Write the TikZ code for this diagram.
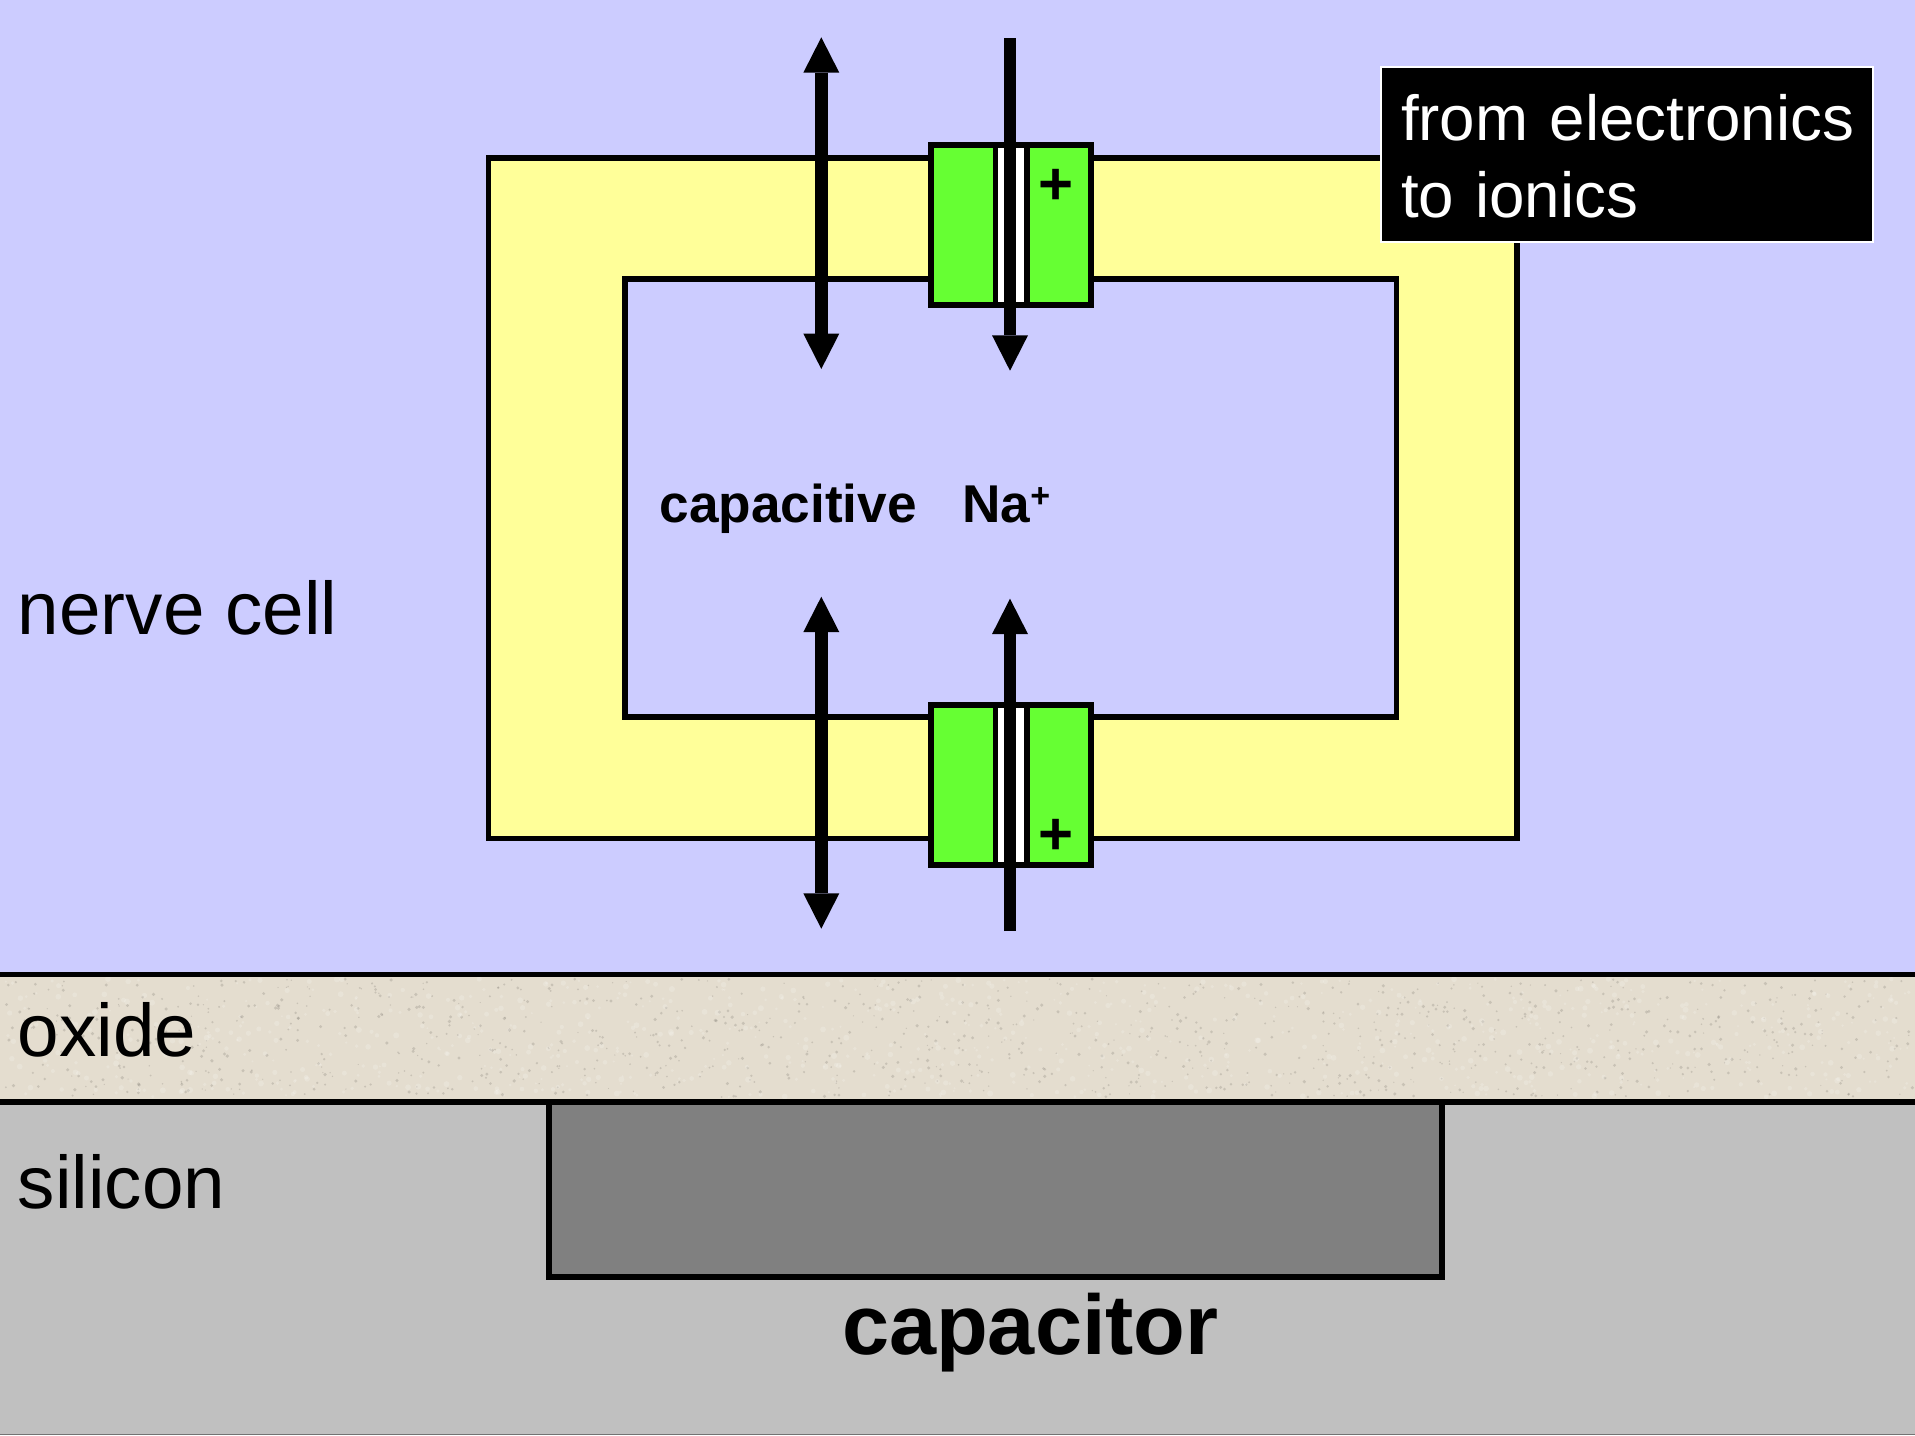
\documentclass[tikz,border=0pt]{standalone}
\usepackage{fontspec}
\setmainfont{Liberation Sans}
\usetikzlibrary{arrows.meta}
\definecolor{cellblue}{HTML}{CCCCFF}
\definecolor{frameyellow}{HTML}{FFFF99}
\definecolor{chgreen}{HTML}{66FF33}
\definecolor{oxidec}{HTML}{E4DDCF}
\definecolor{silic}{HTML}{C0C0C0}
\definecolor{capc}{HTML}{808080}
\tikzset{
  x=0.5pt,y=-0.5pt,
  outl/.style={draw=black,line width=2.95pt,line join=miter},
  lbl/.style={inner sep=0pt,outer sep=0pt,anchor=base west,font=\fontsize{37.3pt}{40pt}\selectfont},
  blbl/.style={inner sep=0pt,outer sep=0pt,anchor=base west,font=\bfseries\fontsize{26.6pt}{30pt}\selectfont},
  plusl/.style={inner sep=0pt,outer sep=0pt,anchor=base,font=\bfseries\fontsize{30pt}{30pt}\selectfont},
  ionarrow/.style={line width=6.3pt,line cap=butt},
  bothtips/.style={ionarrow,{Triangle[line width=0pt,width=18pt,length=17.7pt]}-{Triangle[line width=0pt,width=18pt,length=17.7pt]}},
  onetip/.style={ionarrow,-{Triangle[line width=0pt,width=18pt,length=17.7pt]}},
}
\begin{document}
\begin{tikzpicture}
\useasboundingbox (0,0) rectangle (1915,1435);
% layers
\fill[cellblue] (0,0) rectangle (1915,975);
\fill[oxidec] (0,975) rectangle (1915,1102);
\pgfmathsetseed{4711}
\foreach \i in {1,...,1100}{
  \pgfmathsetmacro{\px}{rnd*1915}
  \pgfmathsetmacro{\py}{979+rnd*118}
  \pgfmathsetmacro{\pr}{0.6+rnd*1.2}
  \fill[black!55!oxidec,opacity=0.22] (\px,\py) circle[radius=\pr];
}
\foreach \i in {1,...,900}{
  \pgfmathsetmacro{\px}{rnd*1915}
  \pgfmathsetmacro{\py}{979+rnd*118}
  \pgfmathsetmacro{\pr}{1+rnd*2}
  \fill[white,opacity=0.18] (\px,\py) circle[radius=\pr];
}
\fill[silic] (0,1102) rectangle (1915,1435);
\draw[black!55,line width=0.5pt] (0,1434.5) -- (1915,1434.5);
\draw[line width=2.95pt] (0,974.5) -- (1915,974.5);
\draw[line width=2.95pt] (0,1102.3) -- (1915,1102.3);
\draw[outl,fill=capc] (549,1102.3) rectangle (1442.4,1277);
% cell frame
\draw[outl,fill=frameyellow,even odd rule] (488.5,158) rectangle (1517,838.5) (624.7,279) rectangle (1396.5,717);
% channels
\draw[outl,fill=chgreen] (931.3,145.3) rectangle (995.5,305);
\draw[outl,fill=chgreen] (1027.3,145.3) rectangle (1091.3,305);
\draw[outl,fill=white] (995.5,145.3) rectangle (1027.3,305);
\draw[outl,fill=chgreen] (931.3,705) rectangle (995.5,865);
\draw[outl,fill=chgreen] (1027.3,705) rectangle (1091.3,865);
\draw[outl,fill=white] (995.5,705) rectangle (1027.3,865);
% arrow ends
\coordinate (capTopA) at (821.3,37.3);
\coordinate (capTopB) at (821.3,369);
\coordinate (naTopA) at (1010,38.3);
\coordinate (naTopB) at (1010,370.7);
\coordinate (capBotA) at (821.3,596.7);
\coordinate (capBotB) at (821.3,928.7);
\coordinate (naBotA) at (1010,931);
\coordinate (naBotB) at (1010,598.7);
\draw[bothtips] (capTopA) -- (capTopB);
\draw[onetip] (naTopA) -- (naTopB);
\draw[bothtips] (capBotA) -- (capBotB);
\draw[onetip] (naBotA) -- (naBotB);
% plus signs
\node[plusl] (plusTop) at (1056,204) {+};
\node[plusl] (plusBot) at (1056,854) {+};
% labels
\node[lbl] (nerve) at (18,634) {nerve cell};
\node[lbl] (oxide) at (18,1056) {oxide};
\node[lbl] (silicon) at (18,1208.5) {silicon};
\node[blbl] (capacitive) at (659.5,522) {capacitive};
\node[blbl] (na) at (962.4,522) {Na\raisebox{7.5pt}{\fontsize{17pt}{17pt}\selectfont +}};
\node[inner sep=0pt,outer sep=0pt,anchor=base west,font=\bfseries\fontsize{42.35pt}{44pt}\selectfont] (capacitor) at (842,1354) {capacitor};
% note
\node[fill=black,draw=white,line width=0.75pt,text=white,inner xsep=10pt,inner ysep=0pt,
  minimum width=246pt,minimum height=87.5pt,text width=226pt,align=left,
  font=\fontsize{31.85pt}{38.5pt}\selectfont] (note) at (1627,154.5) {\rule{0pt}{25.2pt}\mbox{from electronics}\\to ionics};
\end{tikzpicture}
\end{document}
